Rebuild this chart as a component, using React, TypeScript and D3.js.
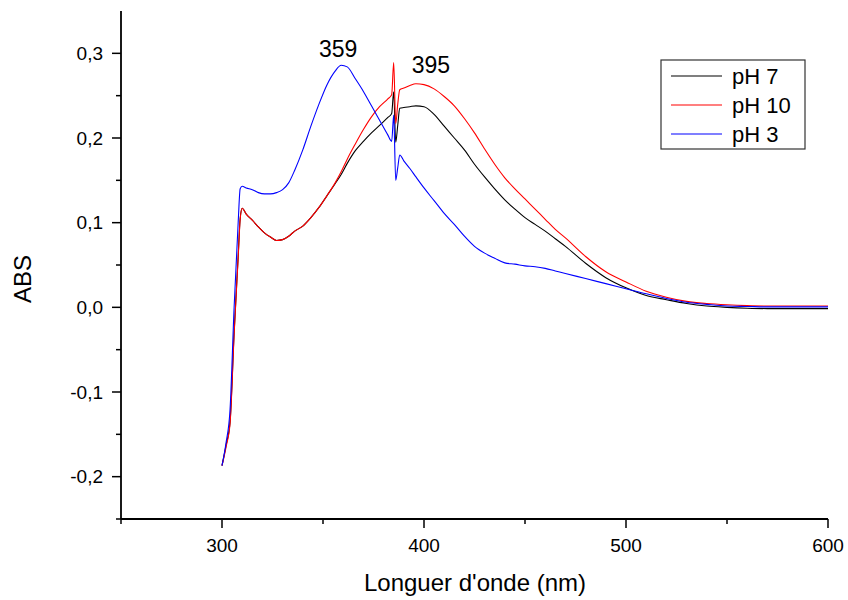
import React, { useEffect, useRef } from 'react';
import * as d3 from 'd3';

// wavelength grid (nm)
const wavelengths = [
  300, 302, 304, 306, 308, 309, 310, 312, 315, 318, 321, 324, 327, 330, 333, 336, 340, 344, 348,
  352, 356, 359, 362, 366, 370, 374, 378, 382, 384, 385, 386, 387, 388, 390, 393, 396, 400, 405,
  410, 415, 420, 425, 430, 435, 440, 445, 450, 455, 460, 465, 470, 480, 490, 500, 510, 520, 530,
  540, 550, 560, 570, 580, 590, 600,
];

const absPH7 = [
  -0.187, -0.163, -0.135, -0.03, 0.06, 0.105, 0.117, 0.11, 0.103, 0.095, 0.088, 0.083, 0.079, 0.08,
  0.084, 0.09, 0.096, 0.106, 0.118, 0.132, 0.146, 0.157, 0.17, 0.185, 0.196, 0.206, 0.215, 0.224,
  0.229, 0.2545, 0.195, 0.215, 0.235, 0.236, 0.237, 0.238, 0.237, 0.228, 0.214, 0.2, 0.186, 0.169,
  0.154, 0.14, 0.127, 0.116, 0.106, 0.098, 0.09, 0.081, 0.072, 0.052, 0.035, 0.023, 0.014, 0.009,
  0.0045, 0.0015, 0.0, -0.001, -0.0015, -0.0015, -0.0015, -0.0015,
];

const absPH10 = [
  -0.187, -0.165, -0.137, -0.032, 0.058, 0.104, 0.117, 0.11, 0.103, 0.095, 0.088, 0.083, 0.079, 0.08,
  0.084, 0.09, 0.096, 0.106, 0.118, 0.132, 0.147, 0.16, 0.175, 0.193, 0.21, 0.225, 0.237, 0.246,
  0.251, 0.289, 0.217, 0.24, 0.257, 0.259, 0.262, 0.264, 0.263, 0.258, 0.249, 0.238, 0.223, 0.206,
  0.187, 0.169, 0.153, 0.14, 0.128, 0.116, 0.104, 0.092, 0.082, 0.06, 0.042, 0.03, 0.019, 0.012,
  0.007, 0.0045, 0.003, 0.002, 0.0015, 0.0015, 0.0015, 0.0015,
];

const absPH3 = [
  -0.187, -0.16, -0.12, 0.0, 0.1, 0.14, 0.143, 0.141, 0.139, 0.1355, 0.134, 0.134, 0.1355, 0.139,
  0.147, 0.162, 0.186, 0.214, 0.24, 0.263, 0.279, 0.286, 0.284, 0.27, 0.255, 0.238, 0.221, 0.204,
  0.196, 0.227, 0.15, 0.165, 0.18, 0.173, 0.164, 0.154, 0.141, 0.126, 0.111, 0.098, 0.084, 0.072,
  0.064, 0.058, 0.0525, 0.051, 0.049, 0.048, 0.046, 0.043, 0.04, 0.034, 0.028, 0.022, 0.016, 0.0105,
  0.006, 0.0035, 0.0015, 0.001, 0.0005, 0.0005, 0.0005, 0.0005,
];

const seriesNames = ['pH 7', 'pH 10', 'pH 3'];
const seriesColors = ['#000000', '#ff0000', '#0000ff'];
const seriesValues = [absPH7, absPH10, absPH3];

const xMajorTicks = [300, 400, 500, 600];
const xMinorTicks = [250, 350, 450, 550];
const yMajorTicks = [-0.2, -0.1, 0.0, 0.1, 0.2, 0.3];
const yMinorTicks = [-0.25, -0.15, -0.05, 0.05, 0.15, 0.25];

const peakLabels = [
  { text: '359', wl: 359, abs: 0.286, dx: -3, dy: -8 },
  { text: '395', wl: 395, abs: 0.264, dx: 17, dy: -11 },
];

const App = () => {
  const ref = useRef<SVGSVGElement>(null);

  useEffect(() => {
    const svg = d3.select(ref.current);
    svg.selectAll('*').remove();

    const x = d3.scaleLinear().domain([250, 600]).range([121, 828]);
    const y = d3.scaleLinear().domain([-0.25, 0.35]).range([519, 11]);

    const font = 'Arial, "Liberation Sans", sans-serif';
    const fmt = (v: number) => d3.format('.1f')(v).replace('.', ',').replace('−', '-');

    // curves
    const line = d3
      .line<[number, number]>()
      .x((d) => x(d[0]))
      .y((d) => y(d[1]))
      .curve(d3.curveMonotoneX);

    seriesValues.forEach((vals, i) => {
      const pts = wavelengths.map((w, j) => [w, vals[j]] as [number, number]);
      svg
        .append('path')
        .attr('d', line(pts))
        .attr('fill', 'none')
        .attr('stroke', seriesColors[i])
        .attr('stroke-width', 1.1)
        .attr('stroke-linejoin', 'round');
    });

    // axes
    const axisColor = '#000';
    const x0 = x.range()[0];
    const y0 = y.range()[0];

    svg.append('line')
      .attr('x1', x0).attr('x2', x0)
      .attr('y1', y.range()[1]).attr('y2', y0)
      .attr('stroke', axisColor).attr('stroke-width', 1.8);
    svg.append('line')
      .attr('x1', x0).attr('x2', x.range()[1])
      .attr('y1', y0).attr('y2', y0)
      .attr('stroke', axisColor).attr('stroke-width', 1.8);

    // y ticks
    yMajorTicks.forEach((t) => {
      svg.append('line')
        .attr('x1', x0 - 9).attr('x2', x0)
        .attr('y1', y(t)).attr('y2', y(t))
        .attr('stroke', axisColor).attr('stroke-width', 1.5);
      svg.append('text')
        .attr('x', x0 - 18).attr('y', y(t) + 6.5)
        .attr('text-anchor', 'end')
        .attr('font-family', font).attr('font-size', 19)
        .text(fmt(t));
    });
    yMinorTicks.forEach((t) => {
      svg.append('line')
        .attr('x1', x0 - 5).attr('x2', x0)
        .attr('y1', y(t)).attr('y2', y(t))
        .attr('stroke', axisColor).attr('stroke-width', 1.5);
    });

    // x ticks
    xMajorTicks.forEach((t) => {
      svg.append('line')
        .attr('x1', x(t)).attr('x2', x(t))
        .attr('y1', y0).attr('y2', y0 + 9)
        .attr('stroke', axisColor).attr('stroke-width', 1.5);
      svg.append('text')
        .attr('x', x(t)).attr('y', y0 + 33)
        .attr('text-anchor', 'middle')
        .attr('font-family', font).attr('font-size', 19)
        .text(t);
    });
    xMinorTicks.forEach((t) => {
      svg.append('line')
        .attr('x1', x(t)).attr('x2', x(t))
        .attr('y1', y0).attr('y2', y0 + 5)
        .attr('stroke', axisColor).attr('stroke-width', 1.5);
    });

    // axis titles
    svg.append('text')
      .attr('x', 475).attr('y', 591)
      .attr('text-anchor', 'middle')
      .attr('font-family', font).attr('font-size', 24)
      .text("Longuer d'onde (nm)");
    svg.append('text')
      .attr('transform', 'translate(31,279) rotate(-90)')
      .attr('text-anchor', 'middle')
      .attr('font-family', font).attr('font-size', 24)
      .text('ABS');

    // peak annotations
    peakLabels.forEach((p) => {
      svg.append('text')
        .attr('x', x(p.wl) + p.dx)
        .attr('y', y(p.abs) + p.dy)
        .attr('text-anchor', 'middle')
        .attr('font-family', font).attr('font-size', 23)
        .text(p.text);
    });

    // legend
    const lg = svg.append('g').attr('transform', 'translate(661,60)');
    lg.append('rect')
      .attr('width', 144).attr('height', 89)
      .attr('fill', '#fff')
      .attr('stroke', '#333').attr('stroke-width', 1.2);
    seriesNames.forEach((name, i) => {
      const cy = 16 + i * 29;
      lg.append('line')
        .attr('x1', 10).attr('x2', 61)
        .attr('y1', cy).attr('y2', cy)
        .attr('stroke', seriesColors[i]).attr('stroke-width', 1.1);
      lg.append('text')
        .attr('x', 71).attr('y', cy + 8)
        .attr('font-family', font).attr('font-size', 22)
        .text(name);
    });
  }, []);

  return (
    <div style={{ position: 'absolute', left: 0, top: 0 }}>
      <svg ref={ref} width={848} height={600} style={{ display: 'block', background: '#fff' }} />
    </div>
  );
};

export default App;
